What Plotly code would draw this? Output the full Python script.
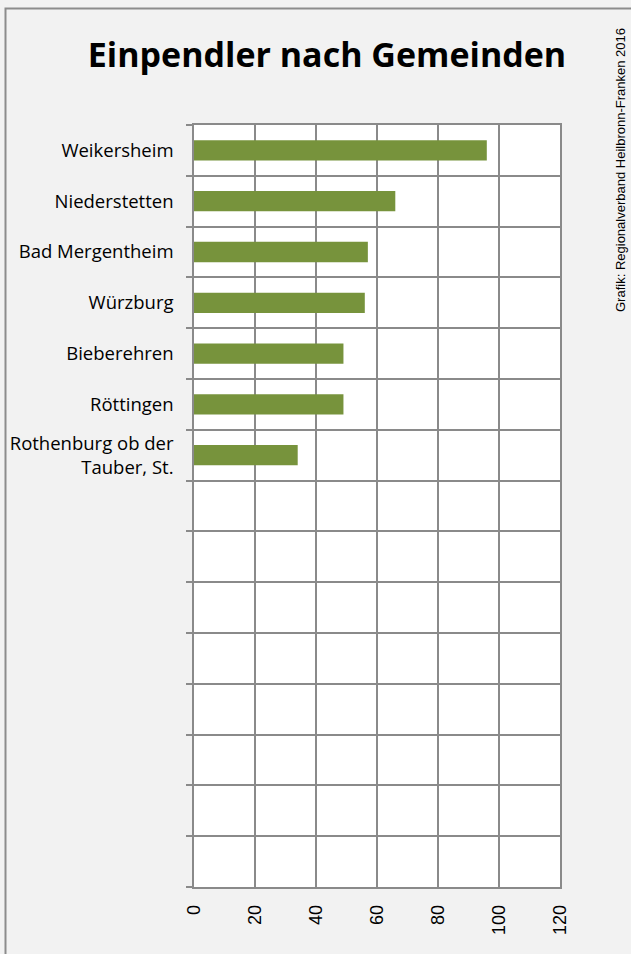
import plotly.graph_objects as go

categories = ["Weikersheim", "Niederstetten", "Bad Mergentheim", "Würzburg",
              "Bieberehren", "Röttingen", "Rothenburg ob der<br>Tauber, St."]
values = [96, 66, 57, 56, 49, 49, 34]
n_slots = 15
x_ticks = [0, 20, 40, 60, 80, 100, 120]

positions = list(range(len(categories)))

grid = "#8a8a8a"
fig = go.Figure()
fig.add_trace(go.Bar(
    y=positions, x=values, orientation="h",
    marker=dict(color="#77933c", line=dict(width=0)),
    width=0.4, hoverinfo="x+y",
))

fig.update_layout(
    width=631, height=954,
    paper_bgcolor="#f2f2f2", plot_bgcolor="#ffffff",
    margin=dict(l=194, r=71, t=125, b=67, pad=0, autoexpand=False),
    showlegend=False,
    title=dict(text="<b>Einpendler nach Gemeinden</b>", x=327 / 631, xref="container",
               y=1 - 55 / 954, yref="container", xanchor="center", yanchor="middle",
               font=dict(family="Open Sans", size=34, color="#000000")),
    xaxis=dict(range=[0, 120], tickvals=x_ticks, ticktext=[str(v) for v in x_ticks],
               tickangle=-90, showgrid=True, gridcolor=grid, gridwidth=1.5,
               zeroline=False, showline=True, linecolor=grid, linewidth=1.5,
               mirror=True, ticks="", ticklabelstandoff=9, automargin=False,
               tickfont=dict(family="Liberation Sans", size=18, color="#000000")),
    yaxis=dict(range=[n_slots - 0.5, -0.5], tickvals=positions, ticktext=categories,
               showgrid=False, zeroline=False, showline=True, linecolor=grid,
               linewidth=1.5, mirror=True, ticks="", ticklabelstandoff=15,
               automargin=False,
               tickfont=dict(family="Open Sans", size=18.5, color="#000000"),
               minor=dict(tickmode="linear", tick0=-0.5, dtick=1, ticks="outside",
                          ticklen=6, tickcolor=grid, tickwidth=1.5,
                          showgrid=True, gridcolor=grid, gridwidth=1.5)),
    shapes=[dict(type="rect", xref="paper", yref="paper",
                 x0=(5.5 - 194) / 366, x1=2.0, y0=-1.0, y1=(887 - 8.5) / 762,
                 line=dict(color="#8c8c8c", width=2), fillcolor="rgba(0,0,0,0)",
                 layer="below")],
    annotations=[dict(text="Grafik: Regionalverband Heilbronn-Franken 2016",
                      xref="paper", yref="paper", x=(620 - 194) / 366,
                      y=(887 - 170) / 762, textangle=-90, showarrow=False,
                      xanchor="center", yanchor="middle",
                      font=dict(family="Liberation Sans", size=13, color="#000000"))],
)

fig.write_html("out.html", config={"displayModeBar": False},
               post_script="document.body.style.margin='0';document.body.style.overflow='hidden';")
